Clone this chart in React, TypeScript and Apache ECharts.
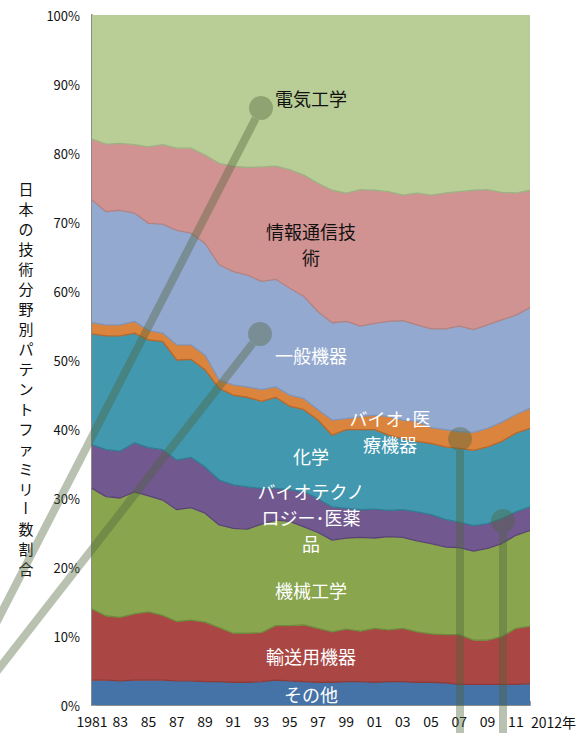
import React, { useEffect, useRef } from "react";
import * as echarts from "echarts";

const years = [
  "1981", "1982", "1983", "1984", "1985", "1986", "1987", "1988", "1989", "1990",
  "1991", "1992", "1993", "1994", "1995", "1996", "1997", "1998", "1999", "2000",
  "2001", "2002", "2003", "2004", "2005", "2006", "2007", "2008", "2009", "2010",
  "2011", "2012",
];

// shares (%) per technology field, bottom to top of the stack
const other = [3.6, 3.6, 3.5, 3.6, 3.6, 3.6, 3.5, 3.5, 3.4, 3.4, 3.3, 3.3, 3.4, 3.6, 3.5, 3.4, 3.3, 3.3, 3.4, 3.4, 3.3, 3.4, 3.4, 3.3, 3.3, 3.2, 3.0, 3.0, 3.0, 3.0, 3.0, 3.1];
const transport = [10.3, 9.3, 9.2, 9.6, 9.9, 9.4, 8.6, 8.8, 8.6, 7.8, 7.1, 7.1, 7.1, 7.9, 8.0, 8.2, 7.8, 7.3, 7.6, 7.3, 7.8, 7.5, 7.7, 7.3, 7.0, 7.0, 7.2, 6.4, 6.4, 6.9, 8.1, 8.3];
const mechanical = [17.5, 17.3, 17.3, 17.7, 16.8, 16.7, 16.2, 16.3, 15.8, 14.9, 15.2, 15.1, 15.7, 15.3, 15.1, 14.2, 13.9, 13.3, 13.2, 13.6, 13.1, 13.5, 13.2, 13.2, 13.1, 12.7, 12.6, 12.9, 13.3, 13.5, 13.5, 13.9];
const biotechPharma = [6.3, 6.8, 6.8, 7.1, 7.0, 7.3, 7.2, 7.3, 6.7, 6.5, 6.3, 6.1, 5.2, 4.6, 4.6, 5.1, 4.9, 4.8, 4.3, 4.0, 4.2, 3.8, 4.0, 4.2, 4.2, 4.0, 3.7, 3.7, 3.6, 3.6, 3.4, 3.4];
const chemistry = [16.1, 16.5, 16.7, 15.9, 15.6, 15.7, 14.5, 14.2, 14.1, 13.3, 13.0, 13.0, 12.6, 13.2, 12.1, 11.9, 11.4, 10.4, 11.4, 11.6, 11.5, 10.9, 10.3, 10.2, 10.3, 10.5, 10.7, 10.9, 11.1, 11.2, 11.4, 11.4];
const bioMedical = [1.6, 1.6, 1.6, 1.7, 1.4, 1.2, 2.2, 2.1, 2.1, 1.2, 1.5, 1.5, 1.7, 1.5, 1.6, 1.6, 1.5, 2.2, 1.6, 1.9, 2.1, 2.7, 2.7, 2.9, 2.3, 2.5, 2.4, 2.6, 2.7, 2.8, 2.7, 2.9];
const generalMachinery = [17.8, 16.4, 16.6, 15.7, 15.5, 15.8, 16.6, 16.2, 16.2, 16.7, 16.4, 16.2, 15.7, 15.6, 15.5, 14.8, 14.2, 14.1, 14.1, 13.1, 13.3, 13.8, 14.4, 14.0, 14.3, 14.6, 15.3, 14.9, 15.0, 14.8, 14.4, 14.6];
const ict = [8.8, 9.8, 9.7, 9.9, 11.1, 11.5, 11.9, 12.3, 12.8, 14.7, 15.3, 15.6, 16.6, 16.4, 17.2, 17.6, 18.6, 19.2, 18.6, 19.8, 19.3, 18.8, 18.2, 19.1, 19.4, 19.7, 19.5, 20.2, 19.6, 18.5, 17.7, 17.0];
const electrical = [18.0, 18.7, 18.6, 18.8, 19.1, 18.8, 19.3, 19.3, 20.3, 21.5, 21.9, 22.1, 22.0, 21.9, 22.4, 23.2, 24.4, 25.4, 25.8, 25.3, 25.4, 25.6, 26.1, 25.8, 26.1, 25.8, 25.6, 25.4, 25.3, 25.7, 25.8, 25.4];

const seriesNames = [
  "その他",
  "輸送用機器",
  "機械工学",
  "バイオテクノロジー・医薬品",
  "化学",
  "バイオ・医療機器",
  "一般機器",
  "情報通信技術",
  "電気工学",
];
const seriesData = [other, transport, mechanical, biotechPharma, chemistry, bioMedical, generalMachinery, ict, electrical];
const fillColors = ["#4572A7", "#AA4643", "#89A54E", "#71588F", "#4198AF", "#DB843D", "#93A9CF", "#D19392", "#B9CD96"];
const edgeColors = ["#8E3A38", "#6F8A3C", "#5A4475", "#2F7C93", "#B8662A", "#7F93B5", "#B08282", "#9DB283", "rgba(0,0,0,0)"];

const yTitle = "日本の技術分野別パテントファミリー数割合";
const FONT = "'Noto Sans CJK JP', 'Noto Sans', sans-serif";

const inChartLabels = [
  { text: "電気工学", x: 311, y: 98, fill: "#111" },
  { text: "情報通信技\n術", x: 311, y: 244, fill: "#111" },
  { text: "一般機器", x: 311, y: 355, fill: "#fff" },
  { text: "バイオ･医\n療機器", x: 390, y: 431, fill: "#fff" },
  { text: "化学", x: 311, y: 456, fill: "#fff" },
  { text: "バイオテクノ\nロジー･医薬\n品", x: 311, y: 517, fill: "#fff" },
  { text: "機械工学", x: 311, y: 590, fill: "#fff" },
  { text: "輸送用機器", x: 311, y: 656, fill: "#fff" },
  { text: "その他", x: 311, y: 694, fill: "#fff" },
];

const leaders = [
  { cx: 261, cy: 108, ex: -10, ey: 635 },
  { cx: 260, cy: 334, ex: -10, ey: 680 },
  { cx: 460, cy: 439, ex: 460, ey: 745 },
  { cx: 503, cy: 521, ex: 503, ey: 745 },
];

export default function App() {
  const ref = useRef<HTMLDivElement>(null);
  useEffect(() => {
    if (!ref.current) return;
    const chart = echarts.init(ref.current, undefined, { renderer: "svg" });

    const leaderColor = "rgba(80,100,60,0.4)";
    const R = 12;
    const leaderGraphics: any[] = [];
    leaders.forEach((l) => {
      const dx = l.ex - l.cx;
      const dy = l.ey - l.cy;
      const len = Math.sqrt(dx * dx + dy * dy);
      const sx = l.cx + (dx / len) * R;
      const sy = l.cy + (dy / len) * R;
      leaderGraphics.push({
        type: "line",
        z: 120,
        shape: { x1: sx, y1: sy, x2: l.ex, y2: l.ey },
        style: { stroke: leaderColor, lineWidth: 8, lineCap: "butt" },
        silent: true,
      });
      leaderGraphics.push({
        type: "circle",
        z: 120,
        shape: { cx: l.cx, cy: l.cy, r: R },
        style: { fill: leaderColor },
        silent: true,
      });
    });

    const titleChars = Array.from(yTitle).map((c, k) => ({
      type: "text",
      x: 26,
      y: 188 + 20 * k,
      rotation: c === "ー" ? -Math.PI / 2 : 0,
      style: {
        text: c,
        fontSize: 15,
        fontFamily: FONT,
        fill: "#111",
        align: "center",
        verticalAlign: "middle",
      },
    }));

    const labelGraphics = inChartLabels.map((l) => ({
      type: "text",
      z: 110,
      x: l.x,
      y: l.y,
      style: {
        text: l.text,
        fontSize: 18,
        lineHeight: 26,
        fontFamily: FONT,
        fill: l.fill,
        align: "center",
        verticalAlign: "middle",
      },
    }));

    chart.setOption({
      animation: false,
      backgroundColor: "#fff",
      grid: { left: 92, right: 49, top: 15, bottom: 28, containLabel: false },
      xAxis: {
        type: "category",
        boundaryGap: false,
        data: years,
        axisLine: { show: true, lineStyle: { color: "#8c8c8c", width: 2 } },
        axisTick: { show: true, inside: true, length: 4, interval: 0, lineStyle: { color: "#a0a0a0" } },
        axisLabel: {
          interval: 1,
          margin: 9,
          fontSize: 14,
          fontFamily: FONT,
          color: "#111",
          formatter: (v: string, i: number) => (i === 0 ? v : i === years.length - 1 ? "" : v.slice(2)),
        },
        splitLine: { show: false },
      },
      yAxis: {
        type: "value",
        min: 0,
        max: 100,
        interval: 10,
        axisLine: { show: true, lineStyle: { color: "#8c8c8c", width: 2 } },
        axisTick: { show: true, inside: true, length: 4, lineStyle: { color: "#a0a0a0" } },
        axisLabel: { margin: 12, fontSize: 13, fontFamily: FONT, color: "#111", formatter: "{value}%" },
        splitLine: { show: false },
      },
      series: seriesNames.map((name, k) => ({
        name,
        type: "line",
        stack: "total",
        data: seriesData[k],
        symbol: "none",
        smooth: false,
        lineStyle: { color: edgeColors[k], width: k === seriesNames.length - 1 ? 0 : 1.3 },
        itemStyle: { color: fillColors[k] },
        areaStyle: { color: fillColors[k], opacity: 1 },
        z: 2,
      })),
      graphic: [
        ...titleChars,
        ...labelGraphics,
        {
          type: "text",
          x: 531,
          y: 722,
          style: {
            text: "2012年",
            fontSize: 14,
            fontFamily: FONT,
            fill: "#111",
            align: "left",
            verticalAlign: "middle",
          },
        },
        ...leaderGraphics,
      ],
    });
    return () => chart.dispose();
  }, []);

  return (
    <div
      ref={ref}
      style={{ position: "fixed", left: 0, top: 0, width: 579, height: 733, background: "#fff" }}
    />
  );
}
